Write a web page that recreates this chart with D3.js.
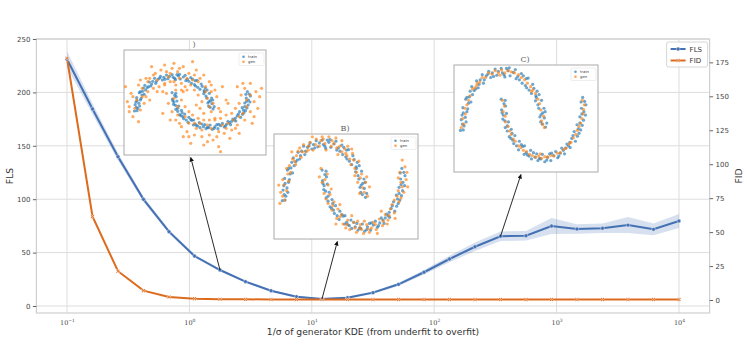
<!DOCTYPE html>
<html>
<head>
<meta charset="utf-8">
<script src="https://cdn.jsdelivr.net/npm/d3@7"></script>
<style>
  body { margin: 0; background: #fff; }
  svg { display: block; font-family: "DejaVu Sans", sans-serif; }
</style>
</head>
<body>
<svg id="plot"></svg>
<script>
// Main curves (x is 1/sigma of generator KDE)
const xVals = [0.1, 0.16156, 0.26102, 0.4217, 0.68129, 1.1007, 1.7783, 2.873, 4.6416, 7.4989,
  12.115, 19.573, 31.623, 51.09, 82.54, 133.35, 215.44, 348.07, 562.34, 908.52,
  1467.8, 2371.4, 3831.2, 6189.7, 10000];
const flsMean = [231, 184.5, 139.8, 99.9, 69.6, 46.8, 33.7, 22.8, 14.3, 8.7,
  6.6, 7.8, 12.5, 20.3, 31.6, 44.0, 55.5, 65.3, 65.8, 74.9,
  72.1, 72.8, 75.8, 71.8, 79.6];
const flsLow = [223.5, 179.5, 136.3, 97.4, 67.6, 45.3, 32.5, 21.8, 13.3, 7.7,
  5.8, 6.8, 11.3, 18.8, 29.6, 41.0, 51.5, 60.8, 61.3, 67.4,
  67.6, 68.3, 68.3, 66.3, 73.1];
const flsHigh = [238.5, 189.5, 143.3, 102.4, 71.6, 48.3, 34.9, 23.8, 15.3, 9.7,
  7.4, 8.8, 13.7, 21.8, 33.6, 47.0, 59.5, 69.8, 70.3, 82.4,
  76.6, 77.3, 83.3, 77.3, 86.1];
const fidVals = [178, 61.5, 21.2, 6.9, 2.2, 1.0, 0.6, 0.5, 0.4, 0.4,
  0.4, 0.4, 0.3, 0.3, 0.3, 0.3, 0.3, 0.3, 0.3, 0.3,
  0.3, 0.3, 0.3, 0.3, 0.3];

const xTicks = [0.1, 1, 10, 100, 1000, 10000];
const xTickExp = ["\u22121", "0", "1", "2", "3", "4"];
const yTicksL = [0, 50, 100, 150, 200, 250];
const yTicksR = [0, 25, 50, 75, 100, 125, 150, 175];

// Inset scatter data (two moons)
const trainPts = [
  [1.05,0.03],[0.93,0.12],[1.02,0.19],[0.91,0.21],[1.01,0.36],[0.86,0.42],[0.95,0.50],[0.80,0.49],[0.84,0.66],[0.70,0.62],
  [0.73,0.78],[0.58,0.72],[0.62,0.89],[0.47,0.80],[0.45,0.97],[0.32,0.88],[0.30,1.04],[0.17,0.93],[0.15,1.07],[0.02,0.95],
  [-0.05,1.06],[-0.16,0.94],[-0.20,1.05],[-0.31,0.90],[-0.36,1.01],[-0.47,0.86],[-0.52,0.95],[-0.60,0.78],[-0.66,0.84],[-0.72,0.67],
  [-0.78,0.74],[-0.84,0.56],[-0.80,0.47],[-0.93,0.52],[-0.88,0.35],[-1.00,0.37],[-0.94,0.20],[-1.04,0.16],[-0.97,0.05],[-1.06,-0.03],
  [0.97,0.08],[1.04,0.30],[0.88,0.36],[0.89,0.60],[0.76,0.71],[0.55,0.76],[0.50,0.93],[0.36,0.92],[0.12,1.02],[0.04,0.91],
  [-0.12,1.01],[-0.27,0.98],[-0.42,0.93],[-0.57,0.86],[-0.68,0.70],[-0.76,0.60],[-0.86,0.45],[-0.99,0.28],[-0.92,0.12],[-1.01,0.08],
  [1.08,0.10],[0.94,0.25],[0.98,0.28],[0.82,0.55],[0.81,0.58],[0.64,0.68],[0.57,0.88],[0.40,0.86],[0.25,0.99],[0.08,1.06],
  [-0.02,0.98],[-0.24,0.92],[-0.38,0.96],[-0.49,0.80],[-0.62,0.72],[-0.82,0.66],[-0.90,0.55],[-0.90,0.30],[-1.02,0.24],[-0.99,-0.02],
  [-0.05,0.52],[0.06,0.40],[-0.04,0.33],[0.08,0.27],[-0.01,0.17],[0.13,0.12],[0.05,0.02],[0.20,-0.01],[0.15,-0.14],[0.29,-0.12],
  [0.26,-0.26],[0.40,-0.22],[0.38,-0.37],[0.53,-0.30],[0.52,-0.45],[0.68,-0.38],[0.70,-0.53],[0.83,-0.44],[0.86,-0.56],[0.97,-0.45],
  [1.03,-0.58],[1.15,-0.44],[1.18,-0.56],[1.30,-0.40],[1.35,-0.51],[1.45,-0.34],[1.52,-0.44],[1.58,-0.27],[1.66,-0.33],[1.70,-0.17],
  [1.79,-0.22],[1.76,-0.05],[1.88,-0.08],[1.83,0.07],[1.96,0.06],[1.90,0.21],[2.04,0.24],[1.94,0.36],[2.05,0.42],[1.97,0.55],
  [0.02,0.44],[0.00,0.24],[0.10,0.05],[0.22,-0.08],[0.24,-0.20],[0.45,-0.28],[0.57,-0.42],[0.64,-0.48],[0.79,-0.50],[0.93,-0.53],
  [1.10,-0.50],[1.25,-0.47],[1.41,-0.43],[1.55,-0.34],[1.65,-0.24],[1.84,-0.13],[1.86,0.00],[1.99,0.15],[2.00,0.30],[1.93,0.47],
  [0.05,0.50],[-0.03,0.28],[0.04,0.14],[0.10,-0.04],[0.19,-0.17],[0.33,-0.30],[0.48,-0.31],[0.60,-0.46],[0.75,-0.42],[0.90,-0.52],
  [1.08,-0.55],[1.20,-0.43],[1.38,-0.48],[1.49,-0.38],[1.62,-0.30],[1.73,-0.12],[1.92,-0.02],[1.90,0.10],[1.95,0.26],[2.02,0.48]
];
const genA = [
  [1.20,0.05],[0.80,-0.10],[1.15,0.40],[0.75,0.25],[1.00,0.55],[0.65,0.45],[0.95,0.85],[0.55,0.60],[0.80,1.05],[0.45,0.75],
  [0.60,1.20],[0.30,0.70],[0.40,1.10],[0.20,0.80],[0.25,1.30],[0.05,0.75],[0.10,1.15],[-0.10,0.85],[-0.05,1.25],[-0.25,0.75],
  [-0.20,1.15],[-0.40,0.70],[-0.35,1.20],[-0.55,0.65],[-0.55,1.05],[-0.70,0.55],[-0.75,0.95],[-0.85,0.40],[-0.95,0.75],[-1.00,0.30],
  [-1.15,0.50],[-0.80,0.20],[-1.20,0.10],[-0.90,0.00],[-1.10,-0.20],[-1.25,0.25],[-0.70,0.85],[0.65,0.85],[0.15,0.95],[-0.15,1.00],
  [0.35,0.95],[-0.45,0.90],[0.85,0.70],[-0.85,0.65],[1.05,0.20],[-1.05,0.05],[0.00,1.40],[0.50,1.45],[-0.60,1.30],[1.30,0.70],
  [-1.30,0.70],[0.90,0.35],[-0.30,0.55],[0.25,0.55],[1.10,-0.30],[-0.95,-0.35],[0.70,0.05],[-0.65,0.30],[0.05,0.60],[1.40,0.30],
  [1.10,0.60],[0.50,0.90],[-0.10,1.10],[-0.65,0.95],[-1.10,0.40],[-0.75,0.40],[0.35,0.60],[0.95,0.10],[-0.45,0.55],[0.15,1.25],
  [0.70,0.95],[-0.90,0.90],[1.25,-0.05],[-1.20,-0.05],[0.55,1.05],[-0.25,1.35],[0.85,0.55],[-0.50,1.10],[0.00,0.85],[1.00,0.75],
  [-0.20,0.50],[0.20,0.60],[-0.15,0.20],[0.20,0.30],[-0.05,-0.05],[0.30,0.10],[0.05,-0.30],[0.40,-0.05],[0.20,-0.50],[0.50,-0.15],
  [0.35,-0.65],[0.65,-0.25],[0.55,-0.75],[0.80,-0.30],[0.75,-0.80],[0.95,-0.30],[0.95,-0.75],[1.10,-0.25],[1.15,-0.80],[1.25,-0.25],
  [1.35,-0.70],[1.40,-0.15],[1.55,-0.60],[1.55,-0.10],[1.70,-0.45],[1.65,0.05],[1.90,-0.30],[1.75,0.20],[2.05,-0.05],[1.80,0.45],
  [2.15,0.25],[1.90,0.65],[2.20,0.55],[2.05,0.80],[1.70,0.70],[2.30,0.40],[0.60,-0.55],[1.00,-0.55],[1.30,-0.45],[0.40,-0.40],
  [1.60,-0.30],[1.85,-0.10],[1.95,0.30],[0.10,0.10],[-0.30,-0.10],[0.80,-1.05],[1.20,-1.10],[0.45,-1.00],[2.10,-0.40],[1.45,0.20],
  [0.60,0.15],[-0.25,0.80],[1.00,-0.05],[0.25,-0.80],[1.75,-0.70],[0.90,-0.95],[2.25,0.05],[0.70,-0.40],[1.50,-0.85],[0.10,-0.15],
  [0.30,-0.20],[0.15,-0.40],[0.55,-0.40],[0.90,-0.45],[1.20,-0.65],[1.45,-0.40],[1.75,-0.20],[1.95,0.10],[2.05,0.45],[1.85,0.80],
  [0.40,-0.80],[0.75,-0.60],[1.05,-0.90],[1.40,-0.55],[1.65,-0.55],[2.15,-0.20],[0.00,0.35],[-0.10,-0.30],[2.35,0.65],[1.25,-1.25]
];
const genB = [
  [1.10,0.05],[0.90,0.10],[1.05,0.30],[0.85,0.30],[0.95,0.45],[0.78,0.55],[0.88,0.68],[0.68,0.62],[0.72,0.82],[0.58,0.78],
  [0.60,0.95],[0.45,0.85],[0.45,1.05],[0.32,0.92],[0.30,1.10],[0.18,0.95],[0.12,1.12],[0.02,1.00],[-0.05,1.12],[-0.12,0.95],
  [-0.20,1.08],[-0.28,0.88],[-0.35,1.02],[-0.45,0.85],[-0.52,0.98],[-0.58,0.75],[-0.66,0.86],[-0.72,0.62],[-0.80,0.72],[-0.85,0.48],
  [-0.95,0.55],[-0.90,0.32],[-1.05,0.35],[-0.95,0.15],[-1.10,0.12],[-1.00,-0.02],[-1.12,-0.08],[0.98,0.20],[0.65,0.72],[0.25,1.00],
  [-0.08,1.05],[-0.40,0.95],[-0.70,0.78],[-0.88,0.60],[1.15,0.22],[-1.15,0.25],[0.52,0.90],[-0.62,0.92],[0.05,0.88],[0.78,0.42],
  [1.02,0.12],[0.92,0.38],[0.82,0.48],[0.75,0.70],[0.55,0.82],[0.40,0.95],[0.20,1.05],[-0.02,1.08],[-0.22,0.98],[-0.40,0.88],
  [-0.55,0.85],[-0.75,0.68],[-0.92,0.45],[-1.02,0.25],[-1.05,0.05],[0.35,0.80],[-0.30,1.12],[0.70,0.90],[-0.82,0.85],[1.08,0.40],
  [-0.08,0.55],[0.08,0.45],[-0.05,0.30],[0.10,0.25],[0.00,0.10],[0.15,0.08],[0.10,-0.08],[0.25,-0.05],[0.20,-0.20],[0.35,-0.18],
  [0.32,-0.35],[0.45,-0.28],[0.48,-0.45],[0.60,-0.38],[0.65,-0.55],[0.75,-0.42],[0.82,-0.60],[0.92,-0.46],[1.00,-0.62],[1.08,-0.46],
  [1.15,-0.60],[1.25,-0.42],[1.32,-0.55],[1.40,-0.36],[1.48,-0.48],[1.55,-0.28],[1.62,-0.38],[1.68,-0.18],[1.78,-0.25],[1.78,-0.02],
  [1.90,-0.05],[1.88,0.15],[2.02,0.12],[1.95,0.30],[2.08,0.35],[1.92,0.48],[2.05,0.58],[1.98,0.70],[0.55,-0.52],[0.90,-0.52],
  [1.20,-0.52],[1.60,-0.45],[1.85,0.05],[0.18,0.18],[0.40,-0.10],[-0.12,0.40],[1.45,-0.22],[0.70,-0.30],[2.12,0.22],[1.02,-0.40],
  [0.02,0.35],[0.05,0.00],[0.22,-0.12],[0.40,-0.32],[0.58,-0.46],[0.78,-0.52],[0.95,-0.55],[1.12,-0.54],[1.30,-0.46],[1.50,-0.40],
  [1.65,-0.30],[1.72,-0.10],[1.95,0.02],[1.98,0.22],[1.88,0.38],[2.10,0.48],[0.30,-0.45],[1.35,-0.62],[0.85,-0.40],[1.80,-0.35]
];
const genC = [
  [1.02,0.02],[0.95,0.14],[1.00,0.22],[0.93,0.33],[0.90,0.44],[0.86,0.52],[0.80,0.62],[0.74,0.68],[0.68,0.74],[0.60,0.80],
  [0.53,0.86],[0.45,0.90],[0.38,0.95],[0.28,0.98],[0.20,1.00],[0.12,1.02],[0.04,0.98],[-0.04,1.03],[-0.12,0.98],[-0.20,1.02],
  [-0.28,0.96],[-0.36,0.98],[-0.44,0.90],[-0.52,0.90],[-0.58,0.82],[-0.64,0.80],[-0.70,0.72],[-0.76,0.70],[-0.82,0.58],[-0.86,0.50],
  [-0.90,0.42],[-0.95,0.36],[-0.94,0.26],[-1.00,0.18],[-0.98,0.08],[-1.04,0.02],[0.98,0.08],[0.70,0.66],[-0.08,0.94],[-0.66,0.76],
  [-0.02,0.50],[0.03,0.40],[0.00,0.30],[0.05,0.22],[0.06,0.12],[0.12,0.04],[0.16,-0.04],[0.20,-0.10],[0.25,-0.18],[0.30,-0.22],
  [0.38,-0.30],[0.44,-0.33],[0.50,-0.38],[0.58,-0.40],[0.65,-0.45],[0.72,-0.47],[0.80,-0.50],[0.88,-0.48],[0.95,-0.52],[1.03,-0.49],
  [1.10,-0.50],[1.18,-0.47],[1.26,-0.48],[1.34,-0.43],[1.42,-0.42],[1.50,-0.36],[1.56,-0.34],[1.63,-0.27],[1.68,-0.24],[1.74,-0.16],
  [1.80,-0.10],[1.84,-0.03],[1.88,0.04],[1.92,0.10],[1.95,0.18],[1.98,0.26],[1.99,0.34],[2.01,0.42],[1.96,0.50],[0.92,-0.44]
];

const blue = '#4471b4';
const orange = '#dc6b1d';

let width = 747;
let height = 359;
let margin = { top: 39, bottom: 46, left: 36.4, right: 37.4 };
let innerW = width - margin.left - margin.right;
let innerH = height - margin.top - margin.bottom;

let svg = d3.select('#plot')
    .attr('width', width)
    .attr('height', height);

let g = svg.append('g')
    .attr('transform', `translate(${margin.left}, ${margin.top})`);

// Scales (log x, twin y)
let xScale = d3.scaleLog()
    .domain([Math.pow(10, -1.25), Math.pow(10, 4.25)])
    .range([0, innerW]);
let yLeft = d3.scaleLinear().domain([-6.55, 250]).range([innerH, 0]);
let yRight = d3.scaleLinear().domain([-9.57, 192.2]).range([innerH, 0]);

// Grid
g.selectAll('.vgrid')
    .data(xTicks)
    .enter()
    .append('line')
    .attr('x1', d => xScale(d)).attr('x2', d => xScale(d))
    .attr('y1', 0).attr('y2', innerH)
    .attr('stroke', '#dddddd').attr('stroke-width', 1);
g.selectAll('.hgrid')
    .data(yTicksL)
    .enter()
    .append('line')
    .attr('x1', 0).attr('x2', innerW)
    .attr('y1', d => yLeft(d)).attr('y2', d => yLeft(d))
    .attr('stroke', '#dddddd').attr('stroke-width', 1);

// Spines
g.append('rect')
    .attr('width', innerW).attr('height', innerH)
    .attr('fill', 'none').attr('stroke', '#cfcfcf').attr('stroke-width', 1.2);

// Axes
let xAxis = g.append('g')
    .attr('transform', `translate(0, ${innerH})`)
    .call(d3.axisBottom(xScale).tickValues(xTicks).tickSize(0).tickPadding(7).tickFormat(() => ''));
xAxis.select('.domain').remove();
xAxis.selectAll('.tick text').each(function(d, i) {
    let t = d3.select(this)
        .attr('font-family', 'DejaVu Serif, serif')
        .attr('font-size', 6.5)
        .attr('fill', '#444');
    t.append('tspan').text('10');
    t.append('tspan').attr('dy', -3).attr('font-size', 4.5).text(xTickExp[i]);
});

let yAxisL = g.append('g')
    .call(d3.axisLeft(yLeft).tickValues(yTicksL).tickSize(3.5).tickPadding(2.5));
let yAxisR = g.append('g')
    .attr('transform', `translate(${innerW}, 0)`)
    .call(d3.axisRight(yRight).tickValues(yTicksR).tickSize(3.5).tickPadding(2.5));
[yAxisL, yAxisR].forEach(a => {
    a.select('.domain').remove();
    a.selectAll('.tick line').attr('stroke', '#666');
    a.selectAll('.tick text').attr('font-size', 7).attr('fill', '#444')
        .attr('font-family', 'DejaVu Sans, sans-serif');
});

// Labels
svg.append('text')
    .attr('x', margin.left + innerW / 2)
    .attr('y', 335)
    .attr('text-anchor', 'middle')
    .attr('font-size', 9.2)
    .attr('fill', '#333')
    .text('1/\u03c3 of generator KDE (from underfit to overfit)');
svg.append('text')
    .attr('transform', 'rotate(-90)')
    .attr('x', -(margin.top + innerH / 2))
    .attr('y', 13)
    .attr('text-anchor', 'middle')
    .attr('font-size', 9.2)
    .attr('fill', '#333')
    .text('FLS');
svg.append('text')
    .attr('transform', 'rotate(-90)')
    .attr('x', -(margin.top + innerH / 2))
    .attr('y', 742)
    .attr('text-anchor', 'middle')
    .attr('font-size', 9.2)
    .attr('fill', '#333')
    .text('FID');

// FLS band + line
let idx = d3.range(xVals.length);
g.append('path')
    .datum(idx)
    .attr('d', d3.area()
        .x(i => xScale(xVals[i]))
        .y0(i => yLeft(flsLow[i]))
        .y1(i => yLeft(flsHigh[i])))
    .attr('fill', blue)
    .attr('fill-opacity', 0.22);
g.append('path')
    .datum(idx)
    .attr('d', d3.line().x(i => xScale(xVals[i])).y(i => yLeft(flsMean[i])))
    .attr('fill', 'none').attr('stroke', blue).attr('stroke-width', 2);

// FID line
g.append('path')
    .datum(idx)
    .attr('d', d3.line().x(i => xScale(xVals[i])).y(i => yRight(fidVals[i])))
    .attr('fill', 'none').attr('stroke', orange).attr('stroke-width', 2);

// Markers
let xMark = 'M-2,-1.2L-1.2,-2L0,-0.8L1.2,-2L2,-1.2L0.8,0L2,1.2L1.2,2L0,0.8L-1.2,2L-2,1.2L-0.8,0Z';
g.selectAll('.flsdot')
    .data(idx)
    .enter()
    .append('circle')
    .attr('cx', i => xScale(xVals[i]))
    .attr('cy', i => yLeft(flsMean[i]))
    .attr('r', 1.9)
    .attr('fill', blue).attr('stroke', '#fff').attr('stroke-width', 0.4);
g.selectAll('.fiddot')
    .data(idx)
    .enter()
    .append('path')
    .attr('d', xMark)
    .attr('transform', i => `translate(${xScale(xVals[i])}, ${yRight(fidVals[i])})`)
    .attr('fill', orange).attr('stroke', '#fff').attr('stroke-width', 0.5);

// Legend
let leg = g.append('g').attr('transform', `translate(${innerW - 43}, 3)`);
leg.append('rect')
    .attr('width', 41).attr('height', 25).attr('rx', 2)
    .attr('fill', '#fff').attr('fill-opacity', 0.85)
    .attr('stroke', '#cccccc').attr('stroke-width', 0.8);
[['FLS', blue], ['FID', orange]].forEach(([name, c], i) => {
    let yy = 7 + i * 11.5;
    leg.append('line').attr('x1', 4).attr('x2', 19).attr('y1', yy).attr('y2', yy)
        .attr('stroke', c).attr('stroke-width', 2);
    if (i === 0) {
        leg.append('circle').attr('cx', 11.5).attr('cy', yy).attr('r', 1.9)
            .attr('fill', c).attr('stroke', '#fff').attr('stroke-width', 0.4);
    } else {
        leg.append('path').attr('d', xMark).attr('transform', `translate(11.5, ${yy})`)
            .attr('fill', c).attr('stroke', '#fff').attr('stroke-width', 0.5);
    }
    leg.append('text').attr('x', 23).attr('y', yy + 2.5)
        .attr('font-size', 7).attr('fill', '#333').text(name);
});

// Insets
let insets = [
    { title: ')', box: { x: 124, y: 50, w: 142, h: 105 }, dx: [-1.34, 2.47], dy: [-1.35, 1.8], gen: genA, at: 6, tip: 0.47 },
    { title: 'B)', box: { x: 274, y: 134, w: 144, h: 105 }, dx: [-1.27, 2.38], dy: [-0.72, 1.17], gen: genB, at: 10, tip: 0.44 },
    { title: 'C)', box: { x: 454, y: 65, w: 144, h: 107 }, dx: [-1.22, 2.35], dy: [-0.76, 1.12], gen: genC, at: 17, tip: 0.465 }
];

svg.append('defs').append('marker')
    .attr('id', 'head')
    .attr('viewBox', '0 0 10 10')
    .attr('refX', 9).attr('refY', 5)
    .attr('markerWidth', 5).attr('markerHeight', 5)
    .attr('orient', 'auto')
    .append('path')
    .attr('d', 'M0,0L10,5L0,10Z')
    .attr('fill', '#111');

insets.forEach(ins => {
    let b = ins.box;
    let ig = svg.append('g').attr('transform', `translate(${b.x}, ${b.y})`);
    let sx = d3.scaleLinear().domain(ins.dx).range([0, b.w]);
    let sy = d3.scaleLinear().domain(ins.dy).range([b.h, 0]);
    ig.append('rect').attr('width', b.w).attr('height', b.h)
        .attr('fill', '#fff').attr('stroke', '#aaaaaa').attr('stroke-width', 1);
    ig.selectAll('.tr')
        .data(trainPts)
        .enter()
        .append('circle')
        .attr('cx', d => sx(d[0])).attr('cy', d => sy(d[1]))
        .attr('r', 1.6)
        .attr('fill', '#1f77b4').attr('fill-opacity', 0.65);
    ig.selectAll('.gn')
        .data(ins.gen)
        .enter()
        .append('circle')
        .attr('cx', d => sx(d[0])).attr('cy', d => sy(d[1]))
        .attr('r', 1.6)
        .attr('fill', '#ff7f0e').attr('fill-opacity', 0.65);
    // inset legend
    let il = ig.append('g').attr('transform', `translate(${b.w - 27}, 3)`);
    il.append('rect').attr('width', 25).attr('height', 12.5).attr('rx', 1)
        .attr('fill', '#fff').attr('fill-opacity', 0.8)
        .attr('stroke', '#dddddd').attr('stroke-width', 0.5);
    [['train', '#1f77b4'], ['gen', '#ff7f0e']].forEach(([n, c], i) => {
        il.append('circle').attr('cx', 4.5).attr('cy', 3.8 + i * 5).attr('r', 1.3)
            .attr('fill', c).attr('fill-opacity', 0.7);
        il.append('text').attr('x', 9).attr('y', 5.2 + i * 5)
            .attr('font-size', 3.8).attr('fill', '#333').text(n);
    });
    svg.append('text')
        .attr('x', b.x + b.w / 2 - 1)
        .attr('y', b.y - 3.5)
        .attr('text-anchor', 'middle')
        .attr('font-family', 'DejaVu Serif, serif')
        .attr('font-size', 8)
        .attr('fill', '#666')
        .text(ins.title);
    // arrow from curve point to inset
    svg.append('line')
        .attr('x1', margin.left + xScale(xVals[ins.at]))
        .attr('y1', margin.top + yLeft(flsMean[ins.at]))
        .attr('x2', b.x + ins.tip * b.w)
        .attr('y2', b.y + b.h + 2.5)
        .attr('stroke', '#111').attr('stroke-width', 0.9)
        .attr('marker-end', 'url(#head)');
});
</script>
</body>
</html>
